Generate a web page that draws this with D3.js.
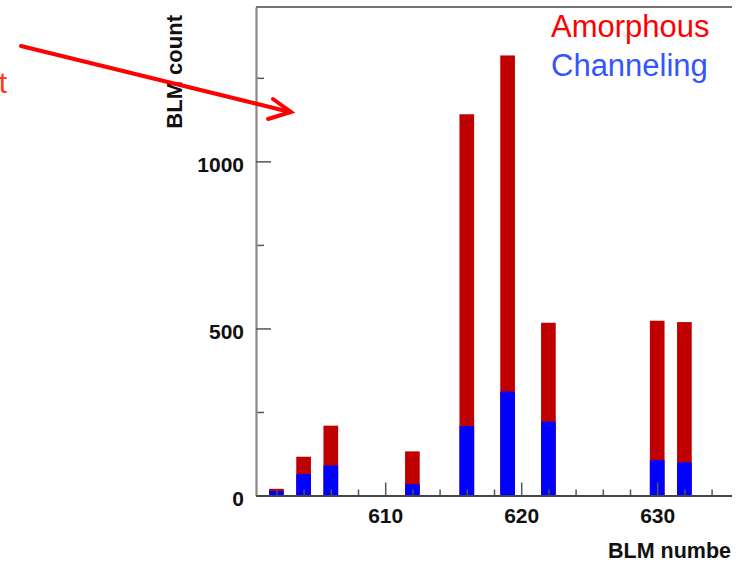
<!DOCTYPE html>
<html>
<head>
<meta charset="utf-8">
<script src="https://cdn.jsdelivr.net/npm/d3@7"></script>
<style>
    html, body { margin: 0; padding: 0; background: #fff; }
    svg { display: block; font-family: "Liberation Sans", Arial, Helvetica, sans-serif; }
</style>
</head>
<body>
<div id="chart"></div>
<script>
// values
const blmNumbers = [602, 604, 606, 612, 616, 619, 622, 630, 632];
const amorphous = [20, 116, 209, 132, 1141, 1317, 517, 523, 519];
const channeling = [14, 64, 90, 34, 208, 311, 221, 106, 99];

const yMajorTicks = [0, 500, 1000];
const yMinorTicks = [250, 750, 1250];
const xMajorTicks = [610, 620, 630];
const xMinorTicks = [602, 604, 606, 608, 612, 614, 616, 618, 622, 624, 626, 628, 632, 634];

const seriesNames = ['Amorphous', 'Channeling'];
const seriesColors = { 'Amorphous': '#c00000', 'Channeling': '#0000ff' };
const legendColors = { 'Amorphous': '#ff0000', 'Channeling': '#3355ff' };

const width = 746, height = 562;
const frame = { left: 256, right: 732, top: 7, bottom: 495.5 };

const svg = d3.select('#chart').append('svg')
    .attr('width', width)
    .attr('height', height);

// the source picture is cut off at the right
svg.append('clipPath').attr('id', 'crop')
    .append('rect').attr('x', 0).attr('y', 0).attr('width', frame.right).attr('height', height);

const root = svg.append('g').attr('clip-path', 'url(#crop)');

const x = d3.scaleLinear().domain([600.5, 635.5]).range([frame.left, frame.right]);
const y = d3.scaleLinear().domain([0, 1462]).range([frame.bottom, frame.top]);
const half = 0.54;

const rows = blmNumbers.map((b, i) => ({ blm: b, Amorphous: amorphous[i], Channeling: channeling[i] }));

// overlaid histograms: amorphous first, channeling on top
seriesNames.forEach(name => {
    root.selectAll('.bar-' + name)
        .data(rows)
        .enter().append('rect')
        .attr('class', 'bar-' + name)
        .attr('x', d => x(d.blm - half))
        .attr('width', d => x(d.blm + half) - x(d.blm - half))
        .attr('y', d => y(d[name]))
        .attr('height', d => y(0) - y(d[name]))
        .style('fill', seriesColors[name]);
});

// top frame line
root.append('line')
    .attr('x1', frame.left).attr('x2', frame.right)
    .attr('y1', frame.top).attr('y2', frame.top)
    .style('stroke', '#444').style('stroke-width', 1.6);

// y axis
const yAxisMinor = d3.axisLeft(y).tickValues(yMinorTicks).tickSize(-8).tickSizeOuter(0).tickFormat('');
const yAxis = d3.axisLeft(y).tickValues(yMajorTicks).tickSize(-15).tickSizeOuter(0).tickPadding(12)
    .tickFormat(d3.format('d'));

root.append('g')
    .attr('transform', `translate(${frame.left},0)`)
    .call(yAxisMinor)
    .call(g => g.select('.domain').remove());

const yg = root.append('g')
    .attr('transform', `translate(${frame.left},0)`)
    .call(yAxis);
yg.select('.domain').style('stroke', '#888').style('stroke-width', 2.2);

// x axis
const xAxisMinor = d3.axisBottom(x).tickValues(xMinorTicks).tickSize(-6).tickSizeOuter(0).tickFormat('');
const xAxis = d3.axisBottom(x).tickValues(xMajorTicks).tickSize(-13).tickSizeOuter(0).tickPadding(12.5)
    .tickFormat(d3.format('d'));

root.append('g')
    .attr('transform', `translate(0,${frame.bottom})`)
    .call(xAxisMinor)
    .call(g => g.select('.domain').remove());

const xg = root.append('g')
    .attr('transform', `translate(0,${frame.bottom})`)
    .call(xAxis);
xg.select('.domain').style('stroke', '#444').style('stroke-width', 2);

root.selectAll('.tick line').style('stroke', '#555').style('stroke-width', 1.5);
root.selectAll('.tick text')
    .style('font-family', '"Liberation Sans", Arial, Helvetica, sans-serif')
    .style('font-size', '21px')
    .style('font-weight', 'bold')
    .style('fill', '#111');
yg.selectAll('.tick text').attr('dy', '0.48em');

// axis titles
root.append('text')
    .attr('transform', 'translate(182,15) rotate(-90)')
    .style('text-anchor', 'end')
    .style('font-size', '22px')
    .style('font-weight', 'bold')
    .style('fill', '#111')
    .text('BLM count');

root.append('text')
    .attr('x', 608)
    .attr('y', 558)
    .style('font-size', '21.5px')
    .style('font-weight', 'bold')
    .style('fill', '#111')
    .text('BLM number');

// legend
root.selectAll('.legend')
    .data(seriesNames)
    .enter().append('text')
    .attr('class', 'legend')
    .attr('x', 551)
    .attr('y', (d, i) => 37 + i * 38.5)
    .style('font-size', '31px')
    .style('fill', d => legendColors[d])
    .text(d => d);

// annotation arrow from the left, partly cut off
root.append('text')
    .attr('x', 7)
    .attr('y', 93)
    .style('text-anchor', 'end')
    .style('font-size', '30px')
    .style('fill', '#ff3b1f')
    .text('t');

const arrow = root.append('g')
    .style('stroke', '#ff0000')
    .style('stroke-width', 4)
    .style('stroke-linecap', 'round')
    .style('fill', 'none');
arrow.append('line').attr('x1', 21).attr('y1', 46).attr('x2', 290).attr('y2', 112);
arrow.append('polyline').attr('points', '273,99 291,112 268,119');
</script>
</body>
</html>
